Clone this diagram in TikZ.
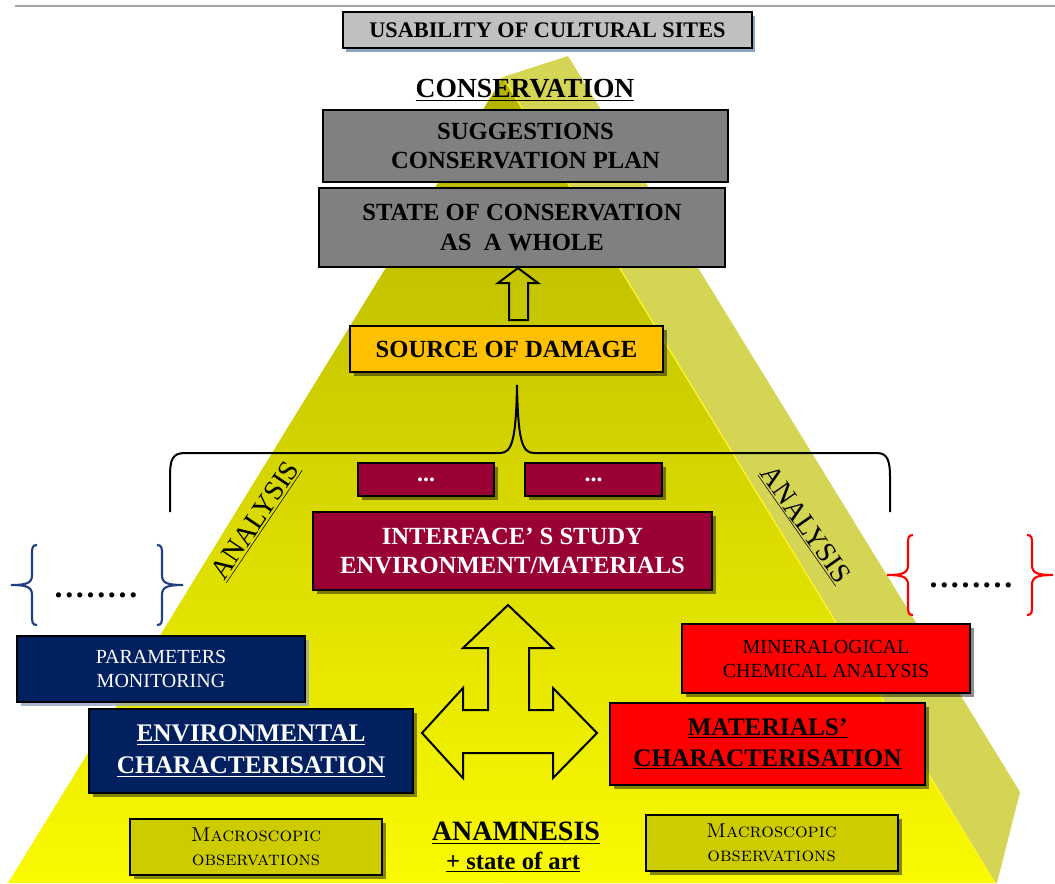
\documentclass[tikz,border=0pt]{standalone}
\usepackage{fontspec}
\newfontfamily\pyrfont{Liberation Serif}
\usetikzlibrary{shadows}

\definecolor{usagray}{HTML}{C0C0C0}
\definecolor{consgray}{HTML}{808080}
\definecolor{damorange}{HTML}{FFC000}
\definecolor{intmaroon}{HTML}{990033}
\definecolor{envblue}{HTML}{002060}
\definecolor{braceblue}{HTML}{203F7F}
\definecolor{matred}{HTML}{FF0000}
\definecolor{obsolive}{HTML}{CCCC00}
\definecolor{backolive}{RGB}{212,212,85}
\definecolor{shdblue}{HTML}{8EA4BC}

\newcommand\dotrow{\foreach \i in {1,...,7}{.\hskip2pt}.}

\begin{document}
\begin{tikzpicture}[x=0.75pt,y=-0.75pt,>=latex,
    box/.style={draw,line width=1.5pt,align=center,inner sep=0pt},
    shd/.style={drop shadow={shadow xshift=3pt,shadow yshift=-3pt,opacity=.45,fill=black}},
    big/.style={font=\pyrfont\bfseries\fontsize{18.5}{22}\selectfont},
    small/.style={font=\pyrfont\fontsize{15}{18}\selectfont},
    obs/.style={box,shd,fill=obsolive,minimum width=189pt,minimum height=42pt,font=\fontsize{15}{18}\selectfont}]
    \useasboundingbox (0,0) rectangle (1055,883);
    \draw [gray!70,line width=1pt] (15,6) -- (1055,6);

    \fill [backolive] (503,77) -- (568,56) -- (1020,792) -- (997,883) -- (503,883) -- cycle;
    \shade [top color={rgb,255:red,178;green,178;blue,0},bottom color={rgb,255:red,250;green,250;blue,0}]
        (503,77) -- (8,883) -- (995,883) -- cycle;
    \draw [yellow!85!white,line width=1pt] (503,77) -- (995,883);

    \node [box,fill=usagray,minimum width=306.75pt,minimum height=27pt,
        drop shadow={shadow xshift=2pt,shadow yshift=-3pt,fill=shdblue,opacity=1},
        font=\pyrfont\bfseries\fontsize{16.7}{20}\selectfont] (usab) at (547.5,30) {USABILITY OF CULTURAL SITES};
    \node [font=\pyrfont\bfseries\fontsize{20.7}{24}\selectfont] (cons) at (525,90) {\underline{CONSERVATION}};
    \node [box,big,fill=consgray,minimum width=303.75pt,minimum height=54pt] (sugg) at (525.5,146) {SUGGESTIONS\\CONSERVATION PLAN};
    \node [box,big,fill=consgray,minimum width=304.5pt,minimum height=59.25pt] (state) at (522,227.5) {STATE OF CONSERVATION\\AS\ \ A WHOLE};
    \node [box,big,shd,fill=damorange,minimum width=234.75pt,minimum height=34.5pt] (source) at (506.5,349) {SOURCE OF DAMAGE};

    \draw [line width=1.5pt] (509,320) -- (509,283) -- (498,283) -- (518,268) -- (538,283) -- (528,283) -- (528,320) -- cycle;

    \draw [line width=1.5pt] (170,512) -- (170,477) .. controls (170,460) and (172,453) .. (185,453) -- (500,453)
        .. controls (512,453) and (516,440) .. (517,385) .. controls (518,440) and (522,453) .. (534,453) -- (877,453)
        .. controls (888,453) and (890,462) .. (890,477) -- (890,512);

    \node [box,shd,fill=intmaroon,text=white,minimum width=102pt,minimum height=24.75pt,
        font=\pyrfont\bfseries\fontsize{18}{18}\selectfont] (dotsa) at (426,479.5) {...};
    \node [box,shd,fill=intmaroon,text=white,minimum width=102.75pt,minimum height=24.75pt,
        font=\pyrfont\bfseries\fontsize{18}{18}\selectfont] (dotsb) at (593.5,479.5) {...};
    \node [box,big,shd,fill=intmaroon,text=white,minimum width=299.25pt,minimum height=58.5pt] (interface) at (512.5,551) {INTERFACE’ S STUDY\\ENVIRONMENT/MATERIALS};

    \node [rotate=56,font=\pyrfont\fontsize{21}{21}\selectfont] (anla) at (256,521) {\underline{ANALYSIS}};
    \node [rotate=-55,font=\pyrfont\fontsize{21}{21}\selectfont] (anlb) at (805,525) {\underline{ANALYSIS}};

    \foreach \tx/\ty/\sx/\col in {11/585/1/braceblue,183/585/-1/braceblue,887/575/1/matred,1053/575/-1/matred}
    {
        \begin{scope}[shift={(\tx,\ty)},xscale=\sx]
            \draw [\col,line width=1.6pt] (26,-40) .. controls (21,-40) and (21,-37) .. (21,-30) -- (21,-10)
                .. controls (21,-2) and (16,0) .. (0,0) .. controls (16,0) and (21,2) .. (21,10) -- (21,30)
                .. controls (21,37) and (21,40) .. (26,40);
        \end{scope}
    }
    \node [font=\pyrfont\bfseries\fontsize{24}{24}\selectfont] (dotsl) at (96,595) {\dotrow};
    \node [font=\pyrfont\bfseries\fontsize{24}{24}\selectfont] (dotsr) at (971,585) {\dotrow};

    \node [box,small,fill=envblue,text=white,minimum width=216pt,minimum height=49.5pt,
        drop shadow={shadow xshift=3pt,shadow yshift=-3pt,fill=shdblue,opacity=.8}] (params) at (161,669) {PARAMETERS\\MONITORING};
    \node [box,small,shd,fill=matred,minimum width=216pt,minimum height=51.75pt] (minera) at (826,658.5) {MINERALOGICAL\\CHEMICAL ANALYSIS};

    \node [box,shd,fill=envblue,text=white,minimum width=243pt,minimum height=63pt,
        font=\pyrfont\bfseries\fontsize{19}{24}\selectfont] (envchar) at (251,751) {\underline{ENVIRONMENTAL}\\\underline{CHARACTERISATION}};
    \node [box,shd,fill=matred,minimum width=236.25pt,minimum height=61.5pt,
        font=\pyrfont\bfseries\fontsize{19}{23.5}\selectfont] (matchar) at (767.5,744) {\underline{MATERIALS’}\\\underline{CHARACTERISATION}};

    \draw [line width=1.5pt] (508,605) -- (553,648) -- (529,648) -- (529,710) -- (553,710) -- (553,688) -- (597,733)
        -- (553,778) -- (553,753) -- (463,753) -- (463,778) -- (422,733) -- (463,688) -- (463,710) -- (488,710)
        -- (488,648) -- (463,648) -- cycle;

    \node [obs] (obsa) at (256,847) {\textsc{Macroscopic}\\\textsc{observations}};
    \node [obs] (obsb) at (771.5,842.5) {\textsc{Macroscopic}\\\textsc{observations}};
    \node [font=\pyrfont\bfseries\fontsize{21}{24}\selectfont] (anam) at (516,833) {\underline{ANAMNESIS}};
    \node [font=\pyrfont\bfseries\fontsize{18.5}{22}\selectfont] (art) at (513,862) {\underline{+ state of art}};
\end{tikzpicture}
\end{document}
